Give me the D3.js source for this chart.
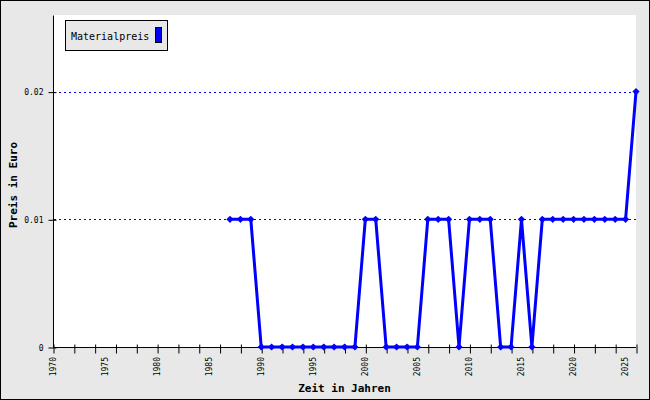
<!DOCTYPE html>
<html>
<head>
<meta charset="utf-8">
<script src="https://cdn.jsdelivr.net/npm/d3@7"></script>
<style>
  html, body { margin: 0; padding: 0; background: #fff; }
  svg { display: block; }
  text { font-family: "DejaVu Sans Mono", "Liberation Mono", monospace; fill: #000; }
</style>
</head>
<body>
<svg id="chart" width="650" height="400"></svg>
<script>
// ---- data ----
const years = [1987, 1988, 1989, 1990, 1991, 1992, 1993, 1994, 1995, 1996,
               1997, 1998, 1999, 2000, 2001, 2002, 2003, 2004, 2005, 2006,
               2007, 2008, 2009, 2010, 2011, 2012, 2013, 2014, 2015, 2016,
               2017, 2018, 2019, 2020, 2021, 2022, 2023, 2024, 2025, 2026];
const prices = [0.01, 0.01, 0.01, 0, 0, 0, 0, 0, 0, 0,
                0, 0, 0, 0.01, 0.01, 0, 0, 0, 0, 0.01,
                0.01, 0.01, 0, 0.01, 0.01, 0.01, 0, 0, 0.01, 0,
                0.01, 0.01, 0.01, 0.01, 0.01, 0.01, 0.01, 0.01, 0.01, 0.02];
const seriesName = "Materialpreis";
const xTickYears = [1970, 1972, 1974, 1976, 1978, 1980, 1982, 1984, 1986, 1988,
                    1990, 1992, 1994, 1996, 1998, 2000, 2002, 2004, 2006, 2008,
                    2010, 2012, 2014, 2016, 2018, 2020, 2022, 2024, 2026];
const xLabelYears = [1970, 1975, 1980, 1985, 1990, 1995, 2000, 2005, 2010, 2015, 2020, 2025];
const yTicks = [0, 0.01, 0.02];
const yTickLabels = ["0", "0.01", "0.02"];
const xTitle = "Zeit in Jahren";
const yTitle = "Preis in Euro";

// ---- layout ----
const W = 650, H = 400;
const plot = { left: 53, right: 636, top: 15, bottom: 347 };
const blue = "#0000ff";

const svg = d3.select("#chart");

// outer background & border
svg.append("rect").attr("x", 0.5).attr("y", 0.5).attr("width", W - 1).attr("height", H - 1)
  .attr("fill", "#e8e8e8").attr("stroke", "#000").attr("stroke-width", 1);

// plot area
svg.append("rect").attr("x", plot.left).attr("y", plot.top)
  .attr("width", plot.right - plot.left).attr("height", plot.bottom - plot.top)
  .attr("fill", "#fff");

const x = d3.scaleLinear().domain([1970, 2026]).range([plot.left, plot.right]);
const y = d3.scaleLinear().domain([0, 0.026]).range([plot.bottom, plot.top]);

// gridlines
svg.append("g").selectAll("line").data(yTicks.filter(d => d > 0)).join("line")
  .attr("x1", plot.left + 1).attr("x2", plot.right)
  .attr("y1", d => Math.round(y(d)) + 0.5).attr("y2", d => Math.round(y(d)) + 0.5)
  .attr("stroke", blue).attr("stroke-width", 1).attr("stroke-dasharray", "2,3");

// x axis
const xAxis = d3.axisBottom(x).tickValues(xTickYears).tickSize(6).tickFormat("");
const gx = svg.append("g").attr("transform", `translate(0.5,${plot.bottom + 0.5})`).call(xAxis);
gx.select(".domain").attr("d", `M${plot.left},0H${plot.right - 0.5}`).attr("stroke", "#000");
gx.selectAll(".tick line").attr("y1", -3).attr("y2", 6).attr("stroke", "#000");

svg.append("g").selectAll("text").data(xLabelYears).join("text")
  .attr("transform", d => `translate(${x(d)},357) rotate(-90)`)
  .attr("text-anchor", "end").attr("dy", "0.33em")
  .attr("font-size", "8px")
  .text(d => String(d));

// y axis
const yAxis = d3.axisLeft(y).tickValues(yTicks).tickSize(5)
  .tickFormat((d, i) => yTickLabels[i]);
const gy = svg.append("g").attr("transform", `translate(${plot.left + 0.5},0.5)`).call(yAxis);
gy.select(".domain").attr("d", `M0,${plot.top}V${plot.bottom}`).attr("stroke", "#000");
gy.selectAll(".tick line").attr("x1", 3).attr("x2", -5).attr("stroke", "#000");
gy.selectAll(".tick text").attr("x", -10).attr("font-size", "8px")
  .attr("font-family", "DejaVu Sans Mono, monospace").attr("fill", "#000");

// axis titles
svg.append("text").attr("x", (plot.left + plot.right) / 2).attr("y", 392)
  .attr("text-anchor", "middle").attr("font-size", "11px").attr("font-weight", "bold")
  .text(xTitle);
svg.append("text")
  .attr("transform", `translate(17,${(plot.top + plot.bottom) / 2 + 4}) rotate(-90)`)
  .attr("text-anchor", "middle").attr("font-size", "11px").attr("font-weight", "bold")
  .text(yTitle);

// series line
const pts = years.map((yr, i) => ({ year: yr, value: prices[i] }));
const line = d3.line().x(d => x(d.year)).y(d => y(d.value));
svg.append("path").datum(pts).attr("d", line)
  .attr("fill", "none").attr("stroke", blue).attr("stroke-width", 3)
  .attr("stroke-linejoin", "miter");

// markers
const sym = d3.symbol().type(d3.symbolSquare).size(26);
svg.append("g").selectAll("path").data(pts).join("path")
  .attr("transform", d => `translate(${x(d.year)},${y(d.value)}) rotate(45)`)
  .attr("d", sym).attr("fill", blue);

// legend
const lg = svg.append("g");
lg.append("rect").attr("x", 65.5).attr("y", 20.5).attr("width", 102).attr("height", 30)
  .attr("fill", "#e8e8e8").attr("stroke", "#000");
lg.append("text").attr("x", 71).attr("y", 40).attr("font-size", "10px").text(seriesName);
lg.append("rect").attr("x", 155.5).attr("y", 27.5).attr("width", 6).attr("height", 15)
  .attr("fill", blue).attr("stroke", "#000");
</script>
</body>
</html>
